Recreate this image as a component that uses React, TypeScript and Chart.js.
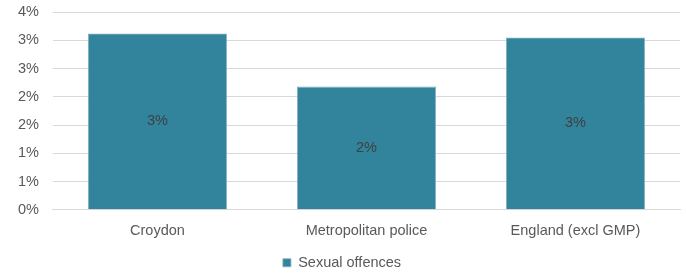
import React, { useEffect, useRef } from "react";
import { Chart, registerables } from "chart.js";

Chart.register(...registerables);

const categories = ["Croydon", "Metropolitan police", "England (excl GMP)"];
const seriesName = "Sexual offences";
const sexualOffences = [3.12, 2.18, 3.05];
const yTicks = [0, 0.5, 1, 1.5, 2, 2.5, 3, 3.5];

const FONT = "'Liberation Sans', Arial, sans-serif";

const labelPlugin = {
  id: "barLabels",
  afterDatasetsDraw(chart: any) {
    const ctx = chart.ctx;
    const meta = chart.getDatasetMeta(0);
    ctx.save();
    ctx.font = "14.5px " + FONT;
    ctx.fillStyle = "#404040";
    ctx.textAlign = "center";
    ctx.textBaseline = "middle";
    meta.data.forEach((bar: any, i: number) => {
      const v = sexualOffences[i];
      const y = (bar.y + bar.base) / 2;
      ctx.fillText(Math.round(v) + "%", bar.x, y);
    });
    ctx.restore();
  },
};

export default function App() {
  const ref = useRef<HTMLCanvasElement>(null);
  useEffect(() => {
    if (!ref.current) return;
    const chart = new Chart(ref.current, {
      type: "bar",
      data: {
        labels: categories,
        datasets: [
          {
            label: seriesName,
            data: sexualOffences,
            backgroundColor: "#31849b",
            borderColor: "#7fb0c0",
            borderWidth: 0.8,
            barPercentage: 0.665,
            categoryPercentage: 1,
          },
        ],
      },
      options: {
        animation: false,
        responsive: true,
        maintainAspectRatio: false,
        layout: { padding: { left: 4, right: 6, top: 0, bottom: 0 } },
        plugins: {
          legend: {
            position: "bottom",
            labels: {
              boxWidth: 8,
              boxHeight: 8,
              padding: 11.7,
              color: "#595959",
              font: { size: 14.5, family: FONT },
            },
          },
          tooltip: { enabled: false },
        },
        scales: {
          x: {
            grid: { display: false },
            border: { color: "#d9d9d9" },
            ticks: {
              color: "#595959",
              padding: 4.3,
              font: { size: 14.5, family: FONT },
            },
          },
          y: {
            min: 0,
            max: 3.5,
            afterBuildTicks: (axis: any) => {
              axis.ticks = yTicks.map((v) => ({ value: v }));
            },
            afterFit: (axis: any) => {
              axis.paddingTop = 12;
              axis.paddingBottom = 8;
            },
            grid: { color: "#d9d9d9", drawTicks: false },
            border: { display: false },
            ticks: {
              color: "#595959",
              padding: 14,
              font: { size: 14.5, family: FONT },
              callback: (v: any) => Math.round(Number(v)) + "%",
            },
          },
        },
      },
      plugins: [labelPlugin],
    });
    return () => chart.destroy();
  }, []);
  return (
    <div style={{ position: "fixed", left: 0, top: 0, width: 686, height: 280, background: "#fff" }}>
      <canvas ref={ref} />
    </div>
  );
}
